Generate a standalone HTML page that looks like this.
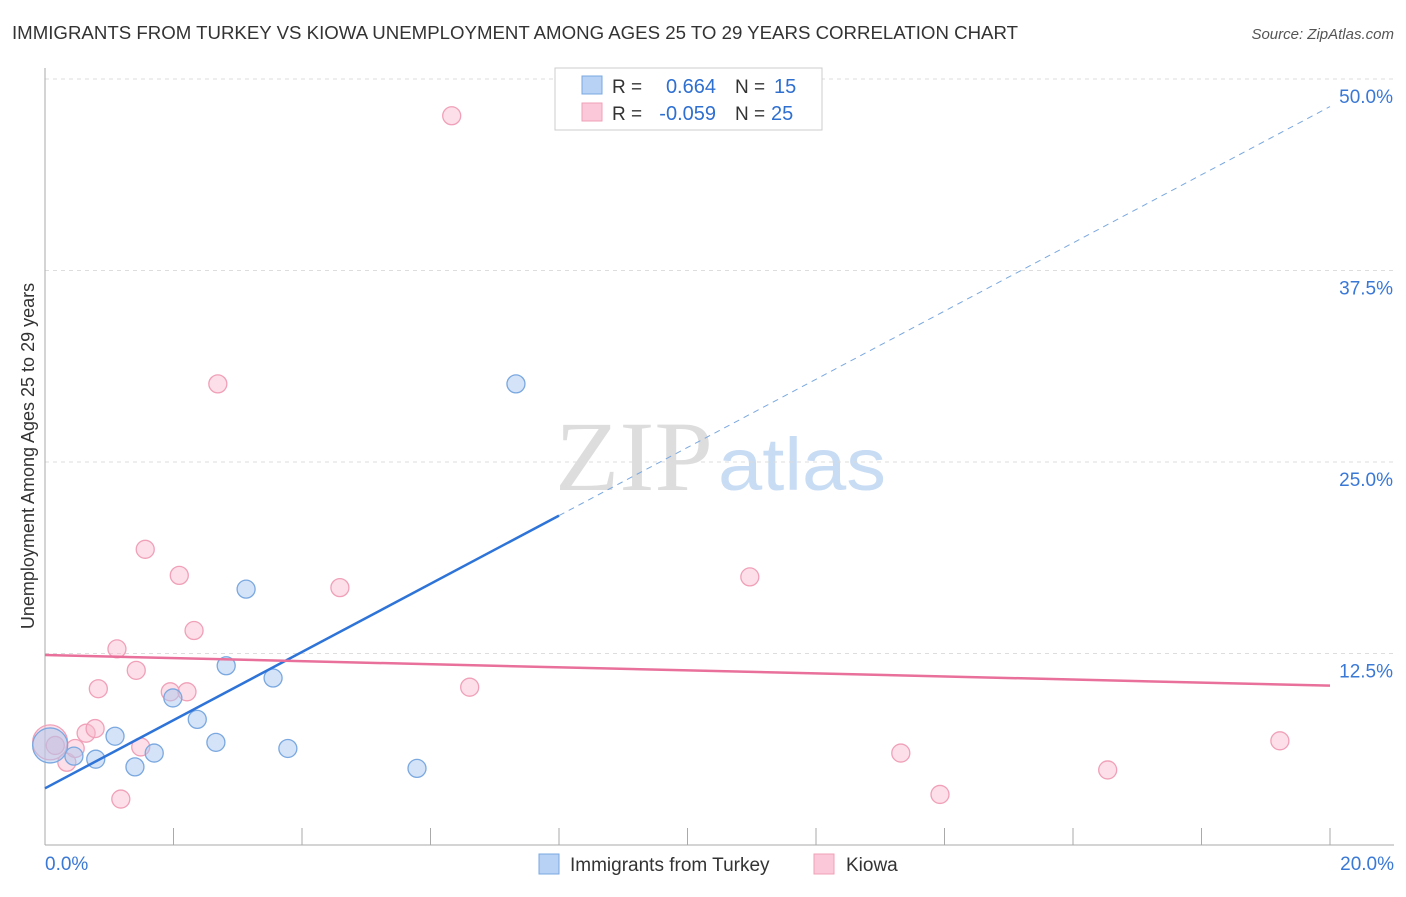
<!DOCTYPE html>
<html><head><meta charset="utf-8"><style>
body{margin:0;background:#fff;font-family:"Liberation Sans",sans-serif;}
</style></head><body>
<svg id="chart" width="1406" height="892" xmlns="http://www.w3.org/2000/svg" font-family="Liberation Sans, sans-serif">
<text x="12" y="39" font-size="18" fill="#333" textLength="1006" lengthAdjust="spacingAndGlyphs">IMMIGRANTS FROM TURKEY VS KIOWA UNEMPLOYMENT AMONG AGES 25 TO 29 YEARS CORRELATION CHART</text>
<text x="1394" y="39" font-size="15" fill="#555" text-anchor="end" font-style="italic">Source: ZipAtlas.com</text>
<text x="555" y="490" font-size="100" fill="#ddd" font-family="Liberation Serif, serif" textLength="158" lengthAdjust="spacingAndGlyphs">ZIP</text>
<text x="718" y="490" font-size="74" fill="#c8dcf4" textLength="168" lengthAdjust="spacingAndGlyphs">atlas</text>
<g id="grid"></g>
<g id="axes"></g>
<g id="marks"></g>
<text transform="translate(34,456) rotate(-90)" font-size="18" fill="#333" text-anchor="middle">Unemployment Among Ages 25 to 29 years</text>
<g>
<rect x="555" y="68" width="267" height="62" fill="#fff" stroke="#ccc"/>
<rect x="582" y="76" width="20" height="18" fill="#b8d2f5" stroke="#7aa8e0"/>
<rect x="582" y="103" width="20" height="18" fill="#fac8d8" stroke="#f0a0b8"/>
<text x="612" y="93" font-size="19" fill="#333">R =</text>
<text x="716" y="93" font-size="20" fill="#2e6fd0" text-anchor="end">0.664</text>
<text x="735" y="93" font-size="19" fill="#333">N =</text>
<text x="774" y="93" font-size="20" fill="#2e6fd0">15</text>
<text x="612" y="120" font-size="19" fill="#333">R =</text>
<text x="716" y="120" font-size="20" fill="#2e6fd0" text-anchor="end">-0.059</text>
<text x="735" y="120" font-size="19" fill="#333">N =</text>
<text x="771" y="120" font-size="20" fill="#2e6fd0">25</text>
</g>
<g>
<rect x="539" y="854" width="20" height="20" fill="#b8d2f5" stroke="#7aa8e0"/>
<text x="570" y="871" font-size="19" fill="#333">Immigrants from Turkey</text>
<rect x="814" y="854" width="20" height="20" fill="#fac8d8" stroke="#f0a0b8"/>
<text x="846" y="871" font-size="19" fill="#333">Kiowa</text>
</g>
</svg>
<script>
const yTicks=[12.5,25,37.5,50];
const yTickLabels=["12.5%","25.0%","37.5%","50.0%"];
const blueX=[0.08,0.45,0.79,1.09,1.4,1.70,1.99,2.37,2.66,2.82,3.13,3.55,3.78,5.79,7.33];
const blueY=[6.5,5.8,5.6,7.1,5.1,6.0,9.6,8.2,6.7,11.7,16.7,10.9,6.3,5.0,30.1];
const pinkX=[0.08,0.16,0.34,0.47,0.64,0.78,0.83,1.12,1.18,1.42,1.49,1.56,1.95,2.09,2.21,2.32,2.69,4.59,6.33,6.61,10.97,13.32,13.93,16.54,19.22];
const pinkY=[6.7,6.5,5.4,6.3,7.3,7.6,10.2,12.8,3.0,11.4,6.4,19.3,10.0,17.6,10.0,14.0,30.1,16.8,47.6,10.3,17.5,6.0,3.3,4.9,6.8];
const blueTrend=[0,3.7,20,48.2];
const pinkTrend=[0,12.4,20,10.4];
const X=v=>45+v/20*1285, Y=v=>845-v/50*766;
const NS="http://www.w3.org/2000/svg";
function mk(p,t,a){const e=document.createElementNS(NS,t);for(const k in a)e.setAttribute(k,a[k]);document.getElementById(p).appendChild(e);return e;}
yTicks.forEach((t,i)=>{
 const l=mk('grid','line',{x1:45,x2:1394,y1:Y(t),y2:Y(t),stroke:'#ddd','stroke-dasharray':'4,4'});
 
 
 const tx=mk('grid','text',{x:1393,y:Y(t)+24,'font-size':19,fill:'#3a78d6','text-anchor':'end'});
 tx.textContent=yTickLabels[i];
 
 
});
const ax=mk('axes','line',{x1:45,x2:45,y1:68,y2:845,stroke:'#aaa'});


const bx=mk('axes','line',{x1:45,x2:1394,y1:845,y2:845,stroke:'#aaa'});


for(let i=0;i<=10;i++){const t=mk('axes','line',{x1:X(i*2),x2:X(i*2),y1:828,y2:845,stroke:'#aaa'});
 
 }
[["0.0%",45,'start'],["20.0%",1394,'end']].forEach(d=>{const t=mk('axes','text',{x:d[1],y:870,'font-size':19,fill:'#3a78d6','text-anchor':d[2]});t.textContent=d[0];
 
 });
function dot(x,y,i,c,f,s){const r=i==0?17.5:9;const e=mk('marks','circle',{cx:X(x),cy:Y(y),r:r,fill:f,stroke:s,'stroke-width':1.3});
 
 }
pinkX.forEach((x,i)=>dot(x,pinkY[i],i,'kiowa','rgba(248,185,205,0.45)','#f0a0b8'));
blueX.forEach((x,i)=>dot(x,blueY[i],i,'turkey','rgba(170,200,240,0.5)','#7aa8e0'));
const bs=(v)=>blueTrend[1]+(blueTrend[3]-blueTrend[1])*v/20;
const l1=mk('marks','line',{x1:X(0),y1:Y(bs(0)),x2:X(8),y2:Y(bs(8)),stroke:'#2e74d8','stroke-width':2.5});


const l2=mk('marks','line',{x1:X(8),y1:Y(bs(8)),x2:X(20),y2:Y(bs(20)),stroke:'#7aa8e0','stroke-width':1,'stroke-dasharray':'6,5'});


const l3=mk('marks','line',{x1:X(pinkTrend[0]),y1:Y(pinkTrend[1]),x2:X(pinkTrend[2]),y2:Y(pinkTrend[3]),stroke:'#e8709a','stroke-width':2.5});


</script>
</body></html>
